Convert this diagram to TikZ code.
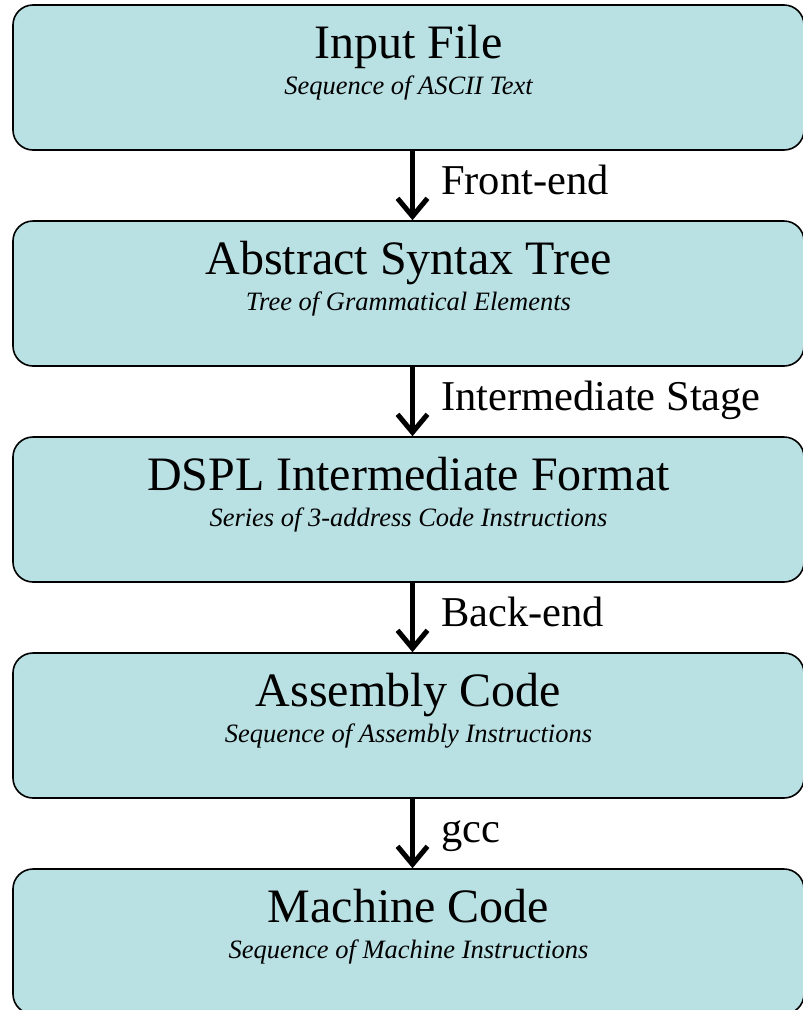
\documentclass[tikz,border=0pt]{standalone}
\usepackage{fontspec}
\setmainfont{Liberation Serif}
\usetikzlibrary{arrows.meta}
\definecolor{stagefill}{RGB}{185,224,227}

\begin{document}
\begin{tikzpicture}[x=1pt,y=1pt,node distance=216pt,
    -{Straight Barb[length=18pt,width=30pt]},line width=5pt]
\tikzstyle{stage}=[draw=black,line width=1.6pt,fill=stagefill,rounded corners=20pt,
  minimum width=791pt,minimum height=145pt]
\tikzstyle{ttl}=[anchor=base,font=\fontsize{48}{50}\selectfont]
\tikzstyle{sub}=[anchor=base,font=\fontsize{26.5}{28}\selectfont\itshape]
\tikzstyle{lbl}=[right,inner sep=0pt,xshift=26pt,text height=26pt,text depth=8pt,
  font=\fontsize{42.5}{44}\selectfont]
\useasboundingbox (0,0) rectangle (803,-1010);
\node[stage] (inp) at (408.5,-77.5) {};
\node[stage] (ast) [below of=inp] {};
\node[stage] (ir)  [below of=ast] {};
\node[stage] (asm) [below of=ir]  {};
\node[stage] (mc)  [below of=asm] {};
% titles and subtitles
\node[ttl] (inp-t) at ([yshift=19.5]inp.center) {Input File};
\node[sub] (inp-s) at ([yshift=-16.5]inp.center) {Sequence of ASCII Text};
\node[ttl] (ast-t) at ([yshift=19.5]ast.center) {Abstract Syntax Tree};
\node[sub] (ast-s) at ([yshift=-16.5]ast.center) {Tree of Grammatical Elements};
\node[ttl] (ir-t)  at ([yshift=19.5]ir.center)  {DSPL Intermediate Format};
\node[sub] (ir-s)  at ([yshift=-16.5]ir.center)  {Series of 3-address Code Instructions};
\node[ttl] (asm-t) at ([yshift=19.5]asm.center) {Assembly Code};
\node[sub] (asm-s) at ([yshift=-16.5]asm.center) {Sequence of Assembly Instructions};
\node[ttl] (mc-t)  at ([yshift=19.5]mc.center)  {Machine Code};
\node[sub] (mc-s)  at ([yshift=-16.5]mc.center)  {Sequence of Machine Instructions};
\path
([xshift=4pt]inp.south) edge node[lbl] (fe) {Front-end}          ([xshift=4pt]ast.north)
([xshift=4pt]ast.south) edge node[lbl] (is) {Intermediate Stage} ([xshift=4pt]ir.north)
([xshift=4pt]ir.south)  edge node[lbl] (be) {Back-end}           ([xshift=4pt]asm.north)
([xshift=4pt]asm.south) edge node[lbl] (gc) {gcc}                ([xshift=4pt]mc.north);
\end{tikzpicture}
\end{document}
